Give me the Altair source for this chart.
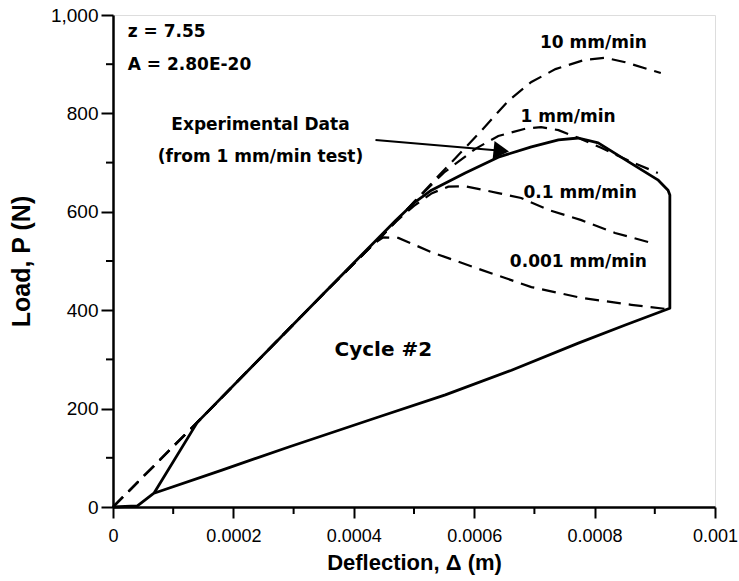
import altair as alt
import pandas as pd

# ---- data (deflection in m, load in N) ----
exp_x = [0, 0.00004, 0.000068, 0.00014, 0.00035, 0.00047, 0.0005, 0.000529, 0.000585, 0.00064, 0.000695,
         0.00074, 0.000773, 0.000806, 0.00086, 0.000905, 0.000922, 0.000925, 0.000925, 0.000851, 0.000773,
         0.000662, 0.000552, 0.000441, 0.000292, 0.000181, 0.000068]
exp_p = [0, 2, 28, 172, 434, 583, 618, 644, 679, 711, 732,
         746, 750, 740, 699, 665, 644, 634, 404, 370, 333,
         278, 228, 183, 122, 75, 28]

r10_x = [0, 0.00014, 0.00035, 0.00045, 0.0005, 0.00055, 0.000585, 0.000612, 0.000657, 0.000695, 0.000735,
         0.000784, 0.000818, 0.000851, 0.00091]
r10_p = [0, 172, 434, 555, 620, 685, 730, 765, 826, 864, 890,
         909, 913, 904, 882]

r1_x = [0, 0.00014, 0.00035, 0.00045, 0.0005, 0.00055, 0.000602, 0.00064, 0.000685, 0.000711, 0.00074,
        0.000773, 0.000811, 0.00086, 0.000905]
r1_p = [0, 172, 434, 555, 620, 680, 728, 754, 769, 772, 766,
        750, 730, 702, 679]

r01_x = [0, 0.00014, 0.00035, 0.00045, 0.00047, 0.0005, 0.00053, 0.000557, 0.000585, 0.00064, 0.000678,
         0.000723, 0.000778, 0.000834, 0.000894]
r01_p = [0, 172, 434, 555, 580, 612, 638, 651, 652, 638, 628,
         604, 583, 557, 537]

r0001_x = [0, 0.00014, 0.00035, 0.00043, 0.000449, 0.000474, 0.000529, 0.000612, 0.000695, 0.000778,
           0.000861, 0.000922]
r0001_p = [0, 172, 434, 533, 548, 547, 518, 482, 447, 425,
           411, 402]

arrow_x = [0.000436, 0.000645]
arrow_p = [746, 724]

label_text = ["z = 7.55", "A = 2.80E-20"]
label_x = [0.0000245, 0.0000245]
label_p = [965, 898]

note_text = ["Experimental Data", "(from 1 mm/min test)", "10 mm/min", "1 mm/min", "0.1 mm/min",
             "0.001 mm/min"]
note_x = [0.000245, 0.000245, 0.000798, 0.000756, 0.000776, 0.000773]
note_p = [776, 711, 943, 793, 638, 498]

cycle_text = ["Cycle #2"]
cycle_x = [0.000449]
cycle_p = [319]

x_ticks = [0, 0.0002, 0.0004, 0.0006, 0.0008, 0.001]
x_minor = [0.0001, 0.0003, 0.0005, 0.0007, 0.0009]
y_ticks = [0, 200, 400, 600, 800, 1000]
y_minor = [100, 300, 500, 700, 900]


def frame(name, xs, ps):
    return pd.DataFrame({"series": name, "x": xs, "p": ps, "i": list(range(len(xs)))})


exp_df = frame("exp", exp_x, exp_p)
dash_df = pd.concat([frame("10", r10_x, r10_p), frame("1", r1_x, r1_p),
                     frame("0.1", r01_x, r01_p), frame("0.001", r0001_x, r0001_p)])

W, H = 602, 492
xs = alt.Scale(domain=[0, 0.001], nice=False, zero=False)
ys = alt.Scale(domain=[0, 1000], nice=False, zero=False)

FONT = "Liberation Sans"
BOLD = "DejaVu Sans"

X = alt.X("x:Q", scale=xs, axis=alt.Axis(
    values=x_ticks, labelExpr="datum.value == 0 ? '0' : format(datum.value, '~g')",
    title="Deflection, \u0394 (m)", grid=False,
    tickSize=11, tickWidth=2, tickColor="black", domainColor="black", domainWidth=2.5,
    labelFont=FONT, labelFontSize=18, labelColor="black", labelPadding=9,
    titleFont=FONT, titleFontSize=22, titleFontWeight="bold", titleColor="black", titlePadding=7,
    labelFlush=False))
Y = alt.Y("p:Q", scale=ys, axis=alt.Axis(
    values=y_ticks, labelExpr="format(datum.value, ',')", title="Load, P (N)", grid=False,
    tickSize=12, tickWidth=2, tickColor="black", domainColor="black", domainWidth=2.5,
    labelFont=FONT, labelFontSize=19, labelColor="black", labelPadding=3,
    titleFont=FONT, titleFontSize=25, titleFontWeight="bold", titleColor="black", titlePadding=16))

exp_line = alt.Chart(exp_df).mark_line(color="black", strokeWidth=2.8, strokeJoin="round").encode(
    x=X, y=Y, order="i:Q")

dash_lines = alt.Chart(dash_df).mark_line(color="black", strokeWidth=2.2, strokeDash=[14, 8]).encode(
    x="x:Q", y="p:Q", detail="series:N", order="i:Q")

arrow_df = pd.DataFrame({"x": arrow_x, "p": arrow_p, "i": [0, 1]})
arrow_line = alt.Chart(arrow_df).mark_line(color="black", strokeWidth=2).encode(
    x="x:Q", y="p:Q", order="i:Q")
arrow_head = alt.Chart(arrow_df.iloc[[1]]).mark_point(
    shape="triangle-right", filled=True, color="black", size=320, angle=6, opacity=1).encode(
    x="x:Q", y="p:Q")

lab_df = pd.DataFrame({"t": label_text, "x": label_x, "p": label_p})
labels = alt.Chart(lab_df).mark_text(align="left", baseline="middle", font=BOLD, fontSize=17,
                                     fontWeight="bold", color="black").encode(x="x:Q", y="p:Q", text="t:N")

note_df = pd.DataFrame({"t": note_text, "x": note_x, "p": note_p})
notes = alt.Chart(note_df).mark_text(align="center", baseline="middle", font=BOLD, fontSize=17,
                                     fontWeight="bold", color="black").encode(x="x:Q", y="p:Q", text="t:N")

cyc_df = pd.DataFrame({"t": cycle_text, "x": cycle_x, "p": cycle_p})
cycle = alt.Chart(cyc_df).mark_text(align="center", baseline="middle", font=BOLD, fontSize=20,
                                    fontWeight="bold", color="black").encode(x="x:Q", y="p:Q", text="t:N")

xm_df = pd.DataFrame({"x": x_minor})
x_minor_ticks = alt.Chart(xm_df).mark_rule(color="black", strokeWidth=2).encode(
    x="x:Q", y=alt.value(H), y2=alt.value(H + 7))
ym_df = pd.DataFrame({"p": y_minor})
y_minor_ticks = alt.Chart(ym_df).mark_rule(color="black", strokeWidth=2).encode(
    y="p:Q", x=alt.value(0), x2=alt.value(-7))

chart = alt.layer(
    exp_line, dash_lines, arrow_line, arrow_head, labels, notes, cycle, x_minor_ticks, y_minor_ticks
).properties(
    width=W, height=H,
    autosize=alt.AutoSizeParams(type="none"),
    padding={"left": 113, "top": 15, "right": 24, "bottom": 74},
).configure_view(stroke=None).configure(background="white")

chart.save("out.html", embed_options={"renderer": "svg", "actions": False})
